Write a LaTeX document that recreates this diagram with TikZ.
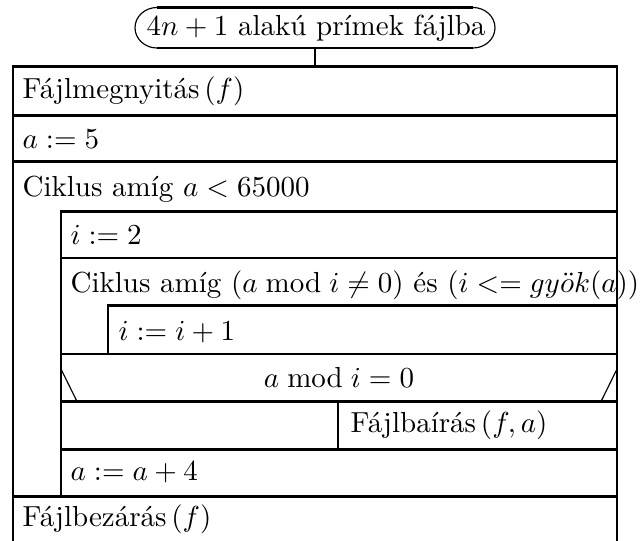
\documentclass[tikz,border=0pt]{standalone}
\begin{document}
\begin{tikzpicture}[x=0.3448pt,y=-0.3448pt,
  frame/.style={line width=1pt, line cap=rect},
  thin/.style={line width=0.4pt},
  txt/.style={anchor=base west, inner sep=0pt}]
\useasboundingbox (0,0) rectangle (644,540);
% title
\node[anchor=base, inner sep=0pt] (title) at (316,35) {$4n+1$ alakú prímek fájlba};
\coordinate (tl) at (157,7.5);
\coordinate (tr) at (473,7.5);
\coordinate (bl) at (157,48);
\coordinate (br) at (473,48);
\coordinate (stemtop) at (315,48);
\coordinate (stembot) at (315,66.5);
\draw[line width=1pt] (tl) -- (tr);
\draw[line width=1pt] (bl) -- (br);
\draw[thin] (tl) arc[start angle=-90,end angle=-270,x radius=22,y radius=20.25];
\draw[thin] (tr) arc[start angle=-90,end angle=90,x radius=22,y radius=20.25];
\draw[frame] (stemtop) -- (stembot);
% texts
\node[txt] (t1) at (22,98) {Fájlmegnyitás$\,(f)$};
\node[txt] (t2) at (22,148) {$a:=5$};
\node[txt] (t3) at (22,196) {Ciklus amíg $a<65000$};
\node[txt] (t4) at (70,244) {$i:=2$};
\node[txt] (t5) at (70,292) {Ciklus amíg $(a \bmod i \neq 0)$ és $(i <= gy\ddot{o}k(a))$};
\node[txt] (t6) at (118,340) {$i:=i+1$};
\node[anchor=base, inner sep=0pt] (t7) at (339,387) {$a \bmod i = 0$};
\node[txt] (t8) at (350,432) {Fájlbaírás$\,(f,a)$};
\node[txt] (t9) at (70,480) {$a:=a+4$};
\node[txt] (t10) at (22,526) {Fájlbezárás$\,(f)$};
% structure
\draw[frame] (13,540) -- (13,66.5) -- (617,66.5) -- (617,540);
\draw[frame] (13,115.8) -- (617,115.8);
\draw[frame] (13,161.7) -- (617,161.7);
\draw[frame] (13,496.5) -- (617,496.5);
\draw[frame] (61,496.5) -- (61,211.3) -- (617,211.3);
\draw[frame] (61,258) -- (617,258);
\draw[frame] (108,354) -- (108,305.5) -- (617,305.5);
\draw[frame] (61,354) -- (617,354);
\draw[frame] (61,401.5) -- (617,401.5);
\draw[frame] (61,449.5) -- (617,449.5);
\draw[frame] (338,401.5) -- (338,449.5);
\draw[thin] (61,369) -- (77,401.5);
\draw[thin] (601,401.5) -- (617,369);
\end{tikzpicture}
\end{document}
